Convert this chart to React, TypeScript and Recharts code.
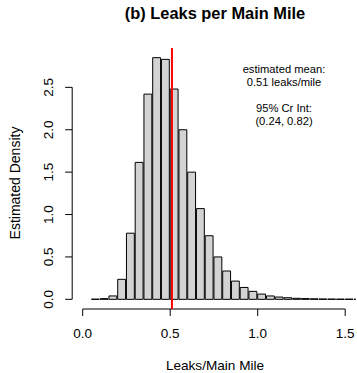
import { ComposedChart, Bar, XAxis, YAxis, ReferenceLine } from 'recharts'

// histogram bins (left edges), width 0.05
const binStarts = [
  0.05, 0.1, 0.15, 0.2, 0.25, 0.3, 0.35, 0.4, 0.45, 0.5, 0.55, 0.6, 0.65, 0.7, 0.75, 0.8,
  0.85, 0.9, 0.95, 1.0, 1.05, 1.1, 1.15, 1.2, 1.25, 1.3, 1.35, 1.4, 1.45, 1.5, 1.55,
]
const densities = [
  0.002, 0.008, 0.04, 0.236, 0.78, 1.615, 2.42, 2.85, 2.83, 2.48, 2.0, 1.5, 1.07, 0.75, 0.5,
  0.334, 0.215, 0.14, 0.094, 0.062, 0.04, 0.027, 0.019, 0.012, 0.009, 0.006, 0.004, 0.003,
  0.002, 0.002, 0.001,
]
const binWidth = 0.05
const xTicks = [0, 0.5, 1, 1.5]
const yTicks = [0, 0.5, 1, 1.5, 2, 2.5]
const meanValue = 0.51
const meanLines = ['estimated mean:', '0.51 leaks/mile']
const intervalLines = ['95% Cr Int:', '(0.24, 0.82)']

const data = binStarts.map((s, i) => ({ mid: s + binWidth / 2, density: densities[i] }))

const W = 357
const H = 373
const xDomain: [number, number] = [-0.06, 1.56]
const yDomain: [number, number] = [-0.114, 2.964]
const margin = { top: 48, right: 1.3, bottom: 0, left: 0 }
const yAxisWidth = 72.2
const xAxisHeight = H - 309
const plotW = W - margin.left - margin.right - yAxisWidth
const barSize = (plotW * binWidth) / (xDomain[1] - xDomain[0])

const font = '"Liberation Sans", Arial, Helvetica, sans-serif'

const XTick = (props: any) => {
  const { x, y, payload } = props
  return (
    <text x={x} y={y + 17} textAnchor="middle" dominantBaseline="central" fontSize={13.5} fill="#000" fontFamily={font}>
      {payload.value.toFixed(1)}
    </text>
  )
}

const YTick = (props: any) => {
  const { x, y, payload } = props
  const cx = x - 12
  return (
    <text
      x={cx}
      y={y}
      textAnchor="middle"
      transform={`rotate(-90, ${cx}, ${y})`}
      fontSize={13.5}
      fill="#000"
      fontFamily={font}
    >
      {payload.value.toFixed(1)}
    </text>
  )
}

const textStyle: React.CSSProperties = { position: 'absolute', fontFamily: font, color: '#000', whiteSpace: 'nowrap' }

export default function App() {
  return (
    <div style={{ position: 'absolute', left: 0, top: 0, width: W, height: H, background: '#fff' }}>
      <div style={{ ...textStyle, left: 0, width: 430, top: 4, textAlign: 'center', fontWeight: 'bold', fontSize: 16.4 }}>
        (b) Leaks per Main Mile
      </div>
      <ComposedChart width={W} height={H} data={data} margin={margin} barCategoryGap={0} barGap={0}>
        <XAxis
          dataKey="mid"
          type="number"
          domain={xDomain}
          allowDataOverflow
          ticks={xTicks}
          interval={0}
          axisLine={false}
          tickLine={{ stroke: '#000' }}
          tickSize={7}
          tickMargin={0}
          height={xAxisHeight}
          tick={<XTick />}
        />
        <YAxis
          type="number"
          domain={yDomain}
          allowDataOverflow
          ticks={yTicks}
          interval={0}
          axisLine={false}
          tickLine={{ stroke: '#000' }}
          tickSize={7}
          tickMargin={0}
          width={yAxisWidth}
          tick={<YTick />}
        />
        <Bar dataKey="density" fill="#d3d3d3" stroke="#000" strokeWidth={1} barSize={barSize} isAnimationActive={false} />
        <ReferenceLine
          segment={[{ x: xTicks[0], y: yDomain[0] }, { x: xTicks[xTicks.length - 1], y: yDomain[0] }]}
          stroke="#000"
          ifOverflow="visible"
        />
        <ReferenceLine
          segment={[{ x: xDomain[0], y: yTicks[0] }, { x: xDomain[0], y: yTicks[yTicks.length - 1] }]}
          stroke="#000"
          ifOverflow="visible"
        />
        <ReferenceLine x={meanValue} stroke="#ff0000" strokeWidth={2} />
      </ComposedChart>
      {meanLines.concat([''], intervalLines).map((t, i) => (
        <div
          key={i}
          style={{ ...textStyle, left: 234, width: 100, textAlign: 'center', fontSize: 11.2, top: 63 + i * 13, lineHeight: '13px' }}
        >
          {t}
        </div>
      ))}
      <div style={{ ...textStyle, left: 0, width: 430, top: 358, textAlign: 'center', fontSize: 13.6, lineHeight: '16px' }}>
        Leaks/Main Mile
      </div>
      <div
        style={{
          ...textStyle,
          left: 15,
          top: 183,
          fontSize: 14,
          lineHeight: '16px',
          transform: 'translate(-50%, -50%) rotate(-90deg)',
        }}
      >
        Estimated Density
      </div>
    </div>
  )
}
